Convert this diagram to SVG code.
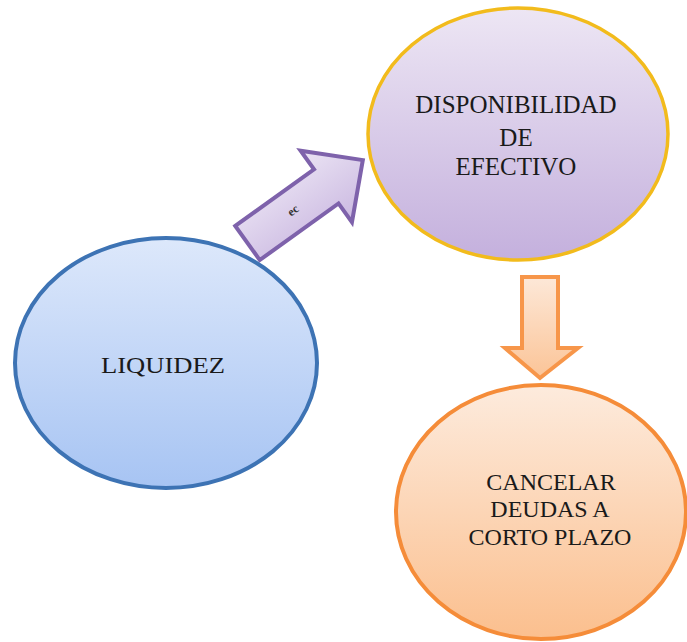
<svg xmlns="http://www.w3.org/2000/svg" width="687" height="642" viewBox="0 0 687 642">
<defs>
<linearGradient id="gBlue" x1="0" y1="0" x2="0" y2="1"><stop offset="0" stop-color="#dde8fb"/><stop offset="1" stop-color="#a7c4f3"/></linearGradient>
<linearGradient id="gPurple" x1="0" y1="0" x2="0" y2="1"><stop offset="0" stop-color="#ede6f4"/><stop offset="1" stop-color="#c4b0dd"/></linearGradient>
<linearGradient id="gOrange" x1="0" y1="0" x2="0" y2="1"><stop offset="0" stop-color="#fdebdd"/><stop offset="1" stop-color="#fbbf8e"/></linearGradient>
<linearGradient id="gArrowP" x1="0" y1="0" x2="0" y2="1"><stop offset="0" stop-color="#ebe4f4"/><stop offset="1" stop-color="#cbb9e1"/></linearGradient>
<linearGradient id="gArrowO" x1="0" y1="0" x2="0" y2="1"><stop offset="0" stop-color="#fde8d8"/><stop offset="1" stop-color="#fbc497"/></linearGradient>
</defs>
<style>
.lbl{font-family:'Liberation Serif','Times New Roman',serif;fill:#1a1a1a;text-anchor:middle}
</style>
<rect width="687" height="642" fill="#ffffff"/>
<g id="connectors">
<g id="arrow-liquidez-disponibilidad" transform="translate(247.5,243) rotate(-35.7)">
<path d="M0,-21 L97,-21 L97,-44 L142,0 L97,44 L97,21 L0,21 Z" fill="url(#gArrowP)" stroke="#7e62ab" stroke-width="4" stroke-linejoin="miter"/>
<text x="56" y="4" font-family="Liberation Serif, serif" font-size="12" font-weight="bold" fill="#333" text-anchor="middle">ес</text>
</g>
<path id="arrow-disponibilidad-cancelar" d="M522,277 L558,277 L558,348 L578,348 L540,378 L505,348 L522,348 Z" fill="url(#gArrowO)" stroke="#f7964a" stroke-width="4" stroke-linejoin="miter"/>
</g>
<g id="node-liquidez">
<ellipse cx="166" cy="363" rx="151" ry="125" fill="url(#gBlue)" stroke="#3d73b4" stroke-width="4"/>
<text class="lbl" font-family="Liberation Serif, serif" x="163" y="373" font-size="23" textLength="124" lengthAdjust="spacingAndGlyphs">LIQUIDEZ</text>
</g>
<g id="node-disponibilidad">
<ellipse cx="518" cy="134" rx="150" ry="126" fill="url(#gPurple)" stroke="#f2bb1c" stroke-width="3.5"/>
<text class="lbl" font-family="Liberation Serif, serif" x="516" y="113" font-size="25">DISPONIBILIDAD</text>
<text class="lbl" font-family="Liberation Serif, serif" x="516" y="146" font-size="25">DE</text>
<text class="lbl" font-family="Liberation Serif, serif" x="516" y="175" font-size="25">EFECTIVO</text>
</g>
<g id="node-cancelar">
<ellipse cx="541" cy="512" rx="145" ry="127" fill="url(#gOrange)" stroke="#f58c39" stroke-width="4"/>
<text class="lbl" font-family="Liberation Serif, serif" x="551" y="490" font-size="24">CANCELAR</text>
<text class="lbl" font-family="Liberation Serif, serif" x="550" y="517" font-size="24">DEUDAS A</text>
<text class="lbl" font-family="Liberation Serif, serif" x="550" y="545" font-size="24">CORTO PLAZO</text>
</g>
</svg>
